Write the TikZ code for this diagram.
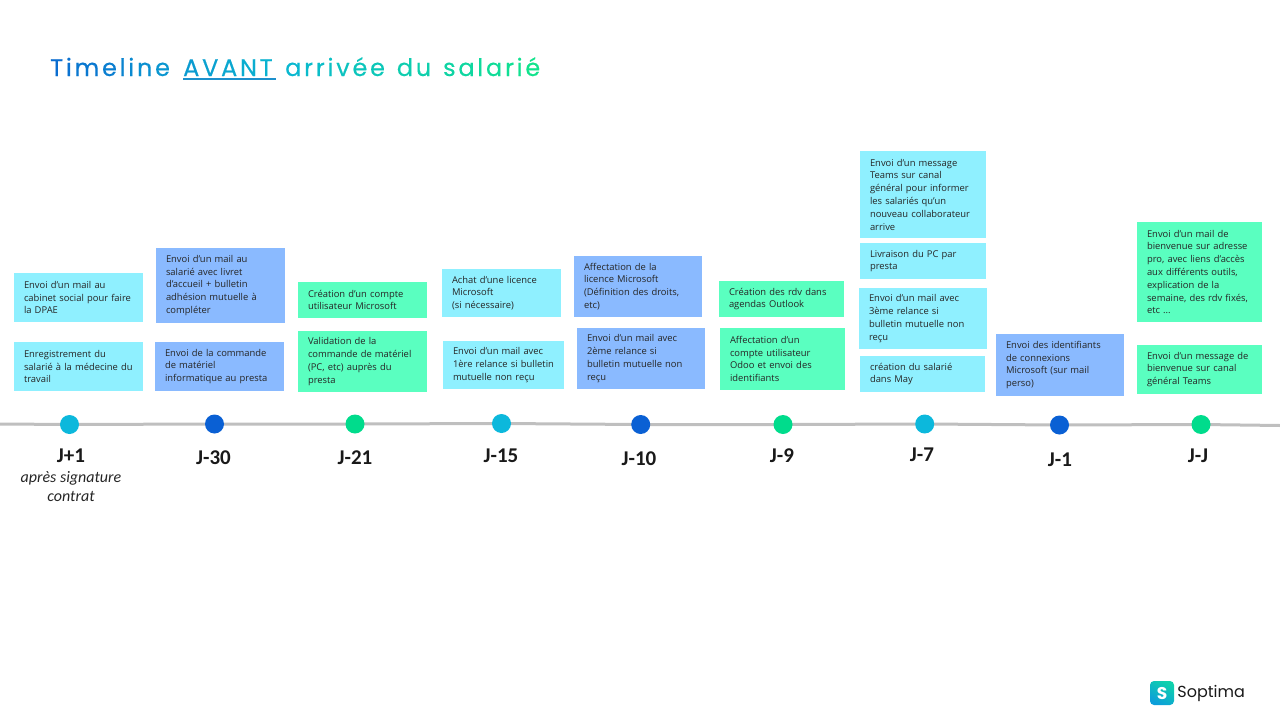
\documentclass[tikz,border=0pt]{standalone}
\usepackage{fontspec}
\setmainfont{Open Sans}
\newfontfamily\titlefont[FakeBold=0.3]{Poppins}
\newfontfamily\logofont{Poppins}
\newfontfamily\jourfont{Carlito}
\usetikzlibrary{positioning,backgrounds}
\definecolor{boxcyan}{HTML}{8FF0FF}
\definecolor{boxblue}{HTML}{8ABAFF}
\definecolor{boxgreen}{HTML}{5AFFC0}
\definecolor{dotcyan}{HTML}{0CB8DC}
\definecolor{dotblue}{HTML}{0A60D4}
\definecolor{dotgreen}{HTML}{00DC8C}
\definecolor{tlgray}{HTML}{BFBFBF}
\definecolor{titleblue}{HTML}{0A66D0}
\definecolor{titlecyan}{HTML}{0AB8D0}
\definecolor{titlegreen}{HTML}{10DC98}
\definecolor{ulblue}{HTML}{1C90CC}
\newcounter{lettre}
% lettre du titre, couleur selon sa place (28 lettres)
\newcommand{\titleletter}[1]{%
  \stepcounter{lettre}%
  \pgfmathtruncatemacro{\pctmix}{\value{lettre}<14 ? 100-\value{lettre}*100/14 : 100-(\value{lettre}-14)*100/14}%
  \ifnum\value{lettre}<14\relax
    \textcolor{titleblue!\pctmix!titlecyan}{#1}%
  \else
    \textcolor{titlecyan!\pctmix!titlegreen}{#1}%
  \fi
  \kern2.75pt}
\tikzset{
  boxbase/.style={anchor=north west,align=left,inner xsep=10pt,inner ysep=0pt,outer sep=0pt,
    font=\fontsize{9.4}{12.8}\selectfont,text=black!85},
  boxsize/.style 2 args={text width=#1pt-20pt,minimum height=#2pt},
  cyanbox/.style={boxbase,fill=boxcyan},
  bluebox/.style={boxbase,fill=boxblue},
  greenbox/.style={boxbase,fill=boxgreen},
  jourlabel/.style={font=\jourfont\bfseries\fontsize{21}{22}\selectfont,text=black!90,yshift=-1pt},
  dotmark/.style={circle,minimum size=19pt,inner sep=0pt,fill=#1},
  titlepart/.style={anchor=base west,inner sep=0pt,font=\titlefont\fontsize{24}{28}\selectfont}
}
\begin{document}
\begin{tikzpicture}[x=1pt,y=-1pt]
\useasboundingbox (0,0) rectangle (1280,720);

\node[titlepart] (titlea) at (50,76) {\foreach \c in {T,i,m,e,l,i,n,e}{\titleletter{\c}}};
\node[titlepart] (titleb) at (183,76) {\foreach \c in {A,V,A,N,T}{\titleletter{\c}}};
\node[titlepart] (titlec) at (285,76) {\foreach \c in {a,r,r,i,v,é,e,~,d,u,~,s,a,l,a,r,i,é}{\titleletter{\c}}};
\coordinate (ula) at (183,79);
\coordinate (ulb) at (276,79);
\draw[ulblue,line width=1.2pt] (ula) -- (ulb);

\node[cyanbox,boxsize={129}{49}] (jp1a) at (14,273) {Envoi d’un mail au\\cabinet social pour faire\\la DPAE};
\node[cyanbox,boxsize={129}{49}] (jp1b) at (14,342) {Enregistrement du\\salarié à la médecine du\\travail};
\node[bluebox,boxsize={129}{75}] (j30a) at (156,248) {Envoi d’un mail au\\salarié avec livret\\d’accueil + bulletin\\adhésion mutuelle à\\compléter};
\node[bluebox,boxsize={129}{49}] (j30b) at (155,342) {Envoi de la commande\\de matériel\\informatique au presta};
\node[greenbox,boxsize={129}{36}] (j21a) at (298,282) {Création d’un compte\\utilisateur Microsoft};
\node[greenbox,boxsize={129}{61}] (j21b) at (298,331) {Validation de la\\commande de matériel\\(PC, etc) auprès du\\presta};
\node[cyanbox,boxsize={119}{48}] (j15a) at (442,269) {Achat d’une licence\\Microsoft\\(si nécessaire)};
\node[cyanbox,boxsize={121}{48}] (j15b) at (443,341) {Envoi d’un mail avec\\1ère relance si bulletin\\mutuelle non reçu};
\node[bluebox,boxsize={128}{61}] (j10a) at (574,256) {Affectation de la\\licence Microsoft\\(Définition des droits,\\etc)};
\node[bluebox,boxsize={128}{61}] (j10b) at (577,328) {Envoi d’un mail avec\\2ème relance si\\bulletin mutuelle non\\reçu};
\node[greenbox,boxsize={125}{36}] (j9a) at (719,281) {Création des rdv dans\\agendas Outlook};
\node[greenbox,boxsize={125}{62}] (j9b) at (720,328) {Affectation d’un\\compte utilisateur\\Odoo et envoi des\\identifiants};
\node[cyanbox,boxsize={126}{87}] (j7a) at (860,151) {Envoi d’un message\\Teams sur canal\\général pour informer\\les salariés qu’un\\nouveau collaborateur\\arrive};
\node[cyanbox,boxsize={126}{36}] (j7b) at (860,243) {Livraison du PC par\\presta};
\node[cyanbox,boxsize={128}{61}] (j7c) at (859,288) {Envoi d’un mail avec\\3ème relance si\\bulletin mutuelle non\\reçu};
\node[cyanbox,boxsize={125}{36}] (j7d) at (860,356) {création du salarié\\dans May};
\node[bluebox,boxsize={128}{62}] (j1a) at (996,334) {Envoi des identifiants\\de connexions\\Microsoft (sur mail\\perso)};
\node[greenbox,boxsize={125}{100}] (jja) at (1137,222) {Envoi d’un mail de\\bienvenue sur adresse\\pro, avec liens d’accès\\aux différents outils,\\explication de la\\semaine, des rdv fixés,\\etc ...};
\node[greenbox,boxsize={125}{49}] (jjb) at (1137,345) {Envoi d’un message de\\bienvenue sur canal\\général Teams};

\foreach \Nom/\Xd/\Yd/\Col/\Xl/\Yl/\Txt in {
  jp1/69.5/424.5/dotcyan/71/455/J+1, j30/214.5/424/dotblue/213.5/457/J-30,
  j21/355/424/dotgreen/355/457/J-21, j15/501.5/423.5/dotcyan/501/455/J-15,
  j10/640.7/424.5/dotblue/639/458/J-10, j9/783/424.5/dotgreen/782/455/J-9,
  j7/924.7/424/dotcyan/922/454/J-7, j1/1059.5/425/dotblue/1060/459/J-1,
  jj/1201/424.5/dotgreen/1198/455/J-J}{
    \node[dotmark=\Col] (dot\Nom) at (\Xd,\Yd) {};
    \node[jourlabel] (lab\Nom) at (\Xl,\Yl) {\Txt};
}
\coordinate (tlstart) at (0,424);
\coordinate (tlend) at (1280,425.5);
\begin{scope}[on background layer]
\draw[tlgray,line width=3pt] (tlstart) -- (dotjp1.center) -- (dotj30.center) -- (dotj21.center)
  -- (dotj15.center) -- (dotj10.center) -- (dotj9.center) -- (dotj7.center) -- (dotj1.center)
  -- (dotjj.center) -- (tlend);
\end{scope}

\node[font=\jourfont\itshape\fontsize{16}{19}\selectfont,align=center,text=black!85] (apres) at (71,486.5) {après signature\\contrat};

\node[minimum size=24pt,inner sep=0pt,rounded corners=4pt,top color=titlegreen!70!dotcyan,bottom color=dotcyan!70!dotblue,shading angle=-30,text=white,font=\logofont\bfseries\fontsize{17}{17}\selectfont] (logo) at (1162,693) {S};
\node[right=3pt of logo,inner sep=0pt,font=\logofont\fontsize{16}{18}\selectfont,text=black!90] (soptima) {Soptima};
\end{tikzpicture}
\end{document}
